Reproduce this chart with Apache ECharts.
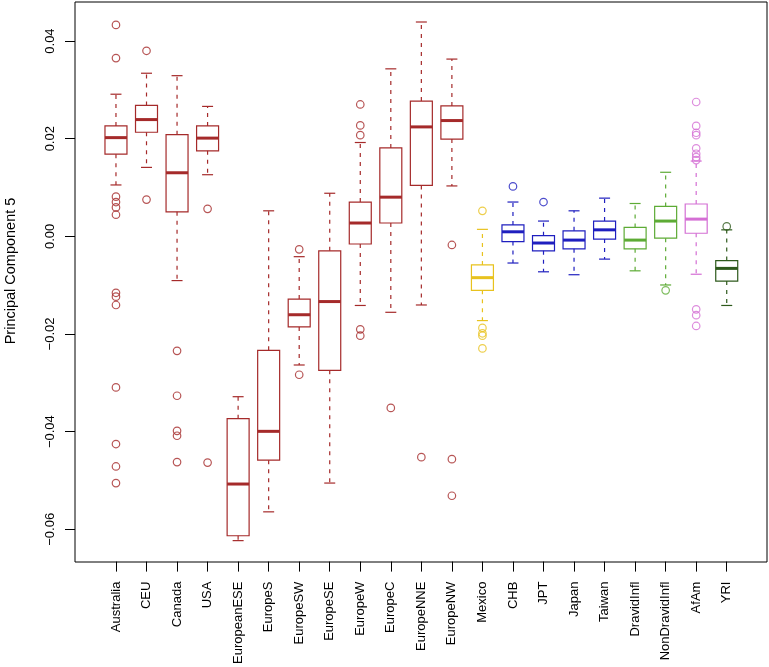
<!DOCTYPE html>
<html>
<head>
<meta charset="utf-8">
<script src="https://cdn.jsdelivr.net/npm/echarts@6/dist/echarts.min.js"></script>
<style>
  html, body { margin: 0; padding: 0; background: #fff; }
  #chart { width: 769px; height: 667px; }
</style>
</head>
<body>
<div id="chart"></div>
<script>
// groups along the x axis
const groups = ['Australia', 'CEU', 'Canada', 'USA', 'EuropeanESE', 'EuropeS', 'EuropeSW', 'EuropeSE',
  'EuropeW', 'EuropeC', 'EuropeNNE', 'EuropeNW', 'Mexico', 'CHB', 'JPT', 'Japan', 'Taiwan',
  'DravidInfl', 'NonDravidInfl', 'AfAm', 'YRI'];

// box statistics
const whiskerLow = [0.0105, 0.0141, -0.0091, 0.0126, -0.0624, -0.0565, -0.0264, -0.0506, -0.0142, -0.0156, -0.0141,
  0.0103, -0.0173, -0.0055, -0.0073, -0.0079, -0.0047, -0.0071, -0.0100, -0.0078, -0.0142];
const q1 = [0.0168, 0.0213, 0.0050, 0.0175, -0.0614, -0.0459, -0.0186, -0.0275, -0.0016, 0.0027, 0.0104,
  0.0199, -0.0111, -0.0011, -0.0030, -0.0026, -0.0006, -0.0026, -0.0004, 0.0006, -0.0092];
const median = [0.0202, 0.0239, 0.0130, 0.0201, -0.0508, -0.0400, -0.0161, -0.0134, 0.0027, 0.0080, 0.0224,
  0.0237, -0.0085, 0.0009, -0.0014, -0.0008, 0.0013, -0.0008, 0.0031, 0.0035, -0.0066];
const q3 = [0.0226, 0.0268, 0.0208, 0.0226, -0.0374, -0.0234, -0.0129, -0.0030, 0.0070, 0.0181, 0.0277,
  0.0267, -0.0059, 0.0023, 0.0001, 0.0011, 0.0031, 0.0018, 0.0061, 0.0066, -0.0050];
const whiskerHigh = [0.0291, 0.0334, 0.0329, 0.0266, -0.0329, 0.0052, -0.0042, 0.0088, 0.0192, 0.0343, 0.0439,
  0.0363, 0.0014, 0.0070, 0.0031, 0.0052, 0.0078, 0.0067, 0.0131, 0.0154, 0.0013];

// outlying points per group
const outlierValues = [
  [0.0433, 0.0365, 0.0081, 0.0070, 0.0059, 0.0044, -0.0116, -0.0124, -0.0141, -0.0310, -0.0426, -0.0472, -0.0506],
  [0.0380, 0.0075],
  [-0.0235, -0.0327, -0.0399, -0.0409, -0.0463],
  [0.0056, -0.0464],
  [],
  [],
  [-0.0027, -0.0284],
  [],
  [0.0270, 0.0227, 0.0207, -0.0191, -0.0204],
  [-0.0352],
  [-0.0453],
  [-0.0018, -0.0457, -0.0532],
  [0.0052, -0.0188, -0.0199, -0.0204, -0.0230],
  [0.0102],
  [0.0070],
  [],
  [],
  [],
  [-0.0111],
  [0.0275, 0.0226, 0.0212, 0.0207, 0.0180, 0.0169, 0.0162, 0.0156, -0.0150, -0.0162, -0.0184],
  [0.0020]
];

const yTicks = [-0.06, -0.04, -0.02, 0, 0.02, 0.04];
const yMin = -0.0667, yMax = 0.0480;

const brown = '#A52A2A', gold = '#E8C21E', blue = '#1F1FBF', green = '#5DAB35', orchid = '#D46FD4', dark = '#2E5A1C';
const groupColors = [brown, brown, brown, brown, brown, brown, brown, brown, brown, brown, brown, brown,
  gold, blue, blue, blue, blue, green, green, orchid, dark];

const boxData = groups.map((g, i) => [i, whiskerLow[i], q1[i], median[i], q3[i], whiskerHigh[i]]);
const pointData = [];
outlierValues.forEach((vals, i) => {
  vals.forEach(v => pointData.push({
    value: [i, v],
    itemStyle: { color: 'rgba(0,0,0,0)', borderColor: groupColors[i], borderWidth: 1.2 }
  }));
});

function renderBox(params, api) {
  const i = api.value(0);
  const col = groupColors[params.dataIndex];
  const lo = api.coord([i, api.value(1)]);
  const b1 = api.coord([i, api.value(2)]);
  const md = api.coord([i, api.value(3)]);
  const b3 = api.coord([i, api.value(4)]);
  const hi = api.coord([i, api.value(5)]);
  const half = api.size([1, 0])[0] * 0.36;
  const cap = half / 2;
  const x = md[0];
  const solid = { stroke: col, lineWidth: 1.2, fill: null };
  const dashed = { stroke: col, lineWidth: 1.2, lineDash: [4, 5] };
  return {
    type: 'group',
    children: [
      { type: 'line', shape: { x1: x, y1: b3[1], x2: x, y2: hi[1] }, style: dashed },
      { type: 'line', shape: { x1: x, y1: b1[1], x2: x, y2: lo[1] }, style: dashed },
      { type: 'line', shape: { x1: x - cap, y1: hi[1], x2: x + cap, y2: hi[1] }, style: solid },
      { type: 'line', shape: { x1: x - cap, y1: lo[1], x2: x + cap, y2: lo[1] }, style: solid },
      { type: 'rect', shape: { x: x - half, y: b3[1], width: half * 2, height: b1[1] - b3[1] }, style: solid },
      { type: 'line', shape: { x1: x - half, y1: md[1], x2: x + half, y2: md[1] }, style: { stroke: col, lineWidth: 3 } }
    ]
  };
}

const chart = echarts.init(document.getElementById('chart'));
chart.setOption({
  animation: false,
  textStyle: { fontFamily: 'Liberation Sans, Arial, sans-serif' },
  grid: [
    { left: 75, top: 2, width: 692, height: 560, show: true, borderColor: '#000', borderWidth: 1 },
    { left: 100.7, top: 2, width: 641.3, height: 560 }
  ],
  xAxis: [
    { gridIndex: 0, type: 'value', min: 0, max: 1, show: false },
    {
      gridIndex: 1, type: 'category', data: groups, boundaryGap: true, position: 'bottom',
      axisLine: { show: false, onZero: false },
      axisTick: { show: true, alignWithLabel: true, length: 10, lineStyle: { color: '#000' } },
      axisLabel: { rotate: 90, interval: 0, margin: 20, fontSize: 13, color: '#000' }
    }
  ],
  yAxis: [
    {
      gridIndex: 0, type: 'value', min: yMin, max: yMax,
      axisLine: { show: false },
      splitLine: { show: false },
      axisTick: { show: true, length: 10, customValues: yTicks, lineStyle: { color: '#000' } },
      axisLabel: {
        rotate: 90, margin: 18, fontSize: 13, color: '#000', customValues: yTicks,
        formatter: v => v.toFixed(2).replace('-', '\u2212')
      }
    },
    { gridIndex: 1, type: 'value', min: yMin, max: yMax, show: false }
  ],
  graphic: [{
    type: 'text', x: 11, y: 271, rotation: Math.PI / 2,
    style: { text: 'Principal Component 5', fontSize: 14.5, fill: '#000',
      fontFamily: 'Liberation Sans, Arial, sans-serif', align: 'center', verticalAlign: 'middle' }
  }],
  series: [
    { type: 'custom', xAxisIndex: 1, yAxisIndex: 1, renderItem: renderBox, data: boxData },
    {
      type: 'scatter', xAxisIndex: 1, yAxisIndex: 1, symbol: 'circle', symbolSize: 7.5,
      data: pointData
    }
  ]
});
</script>
</body>
</html>
